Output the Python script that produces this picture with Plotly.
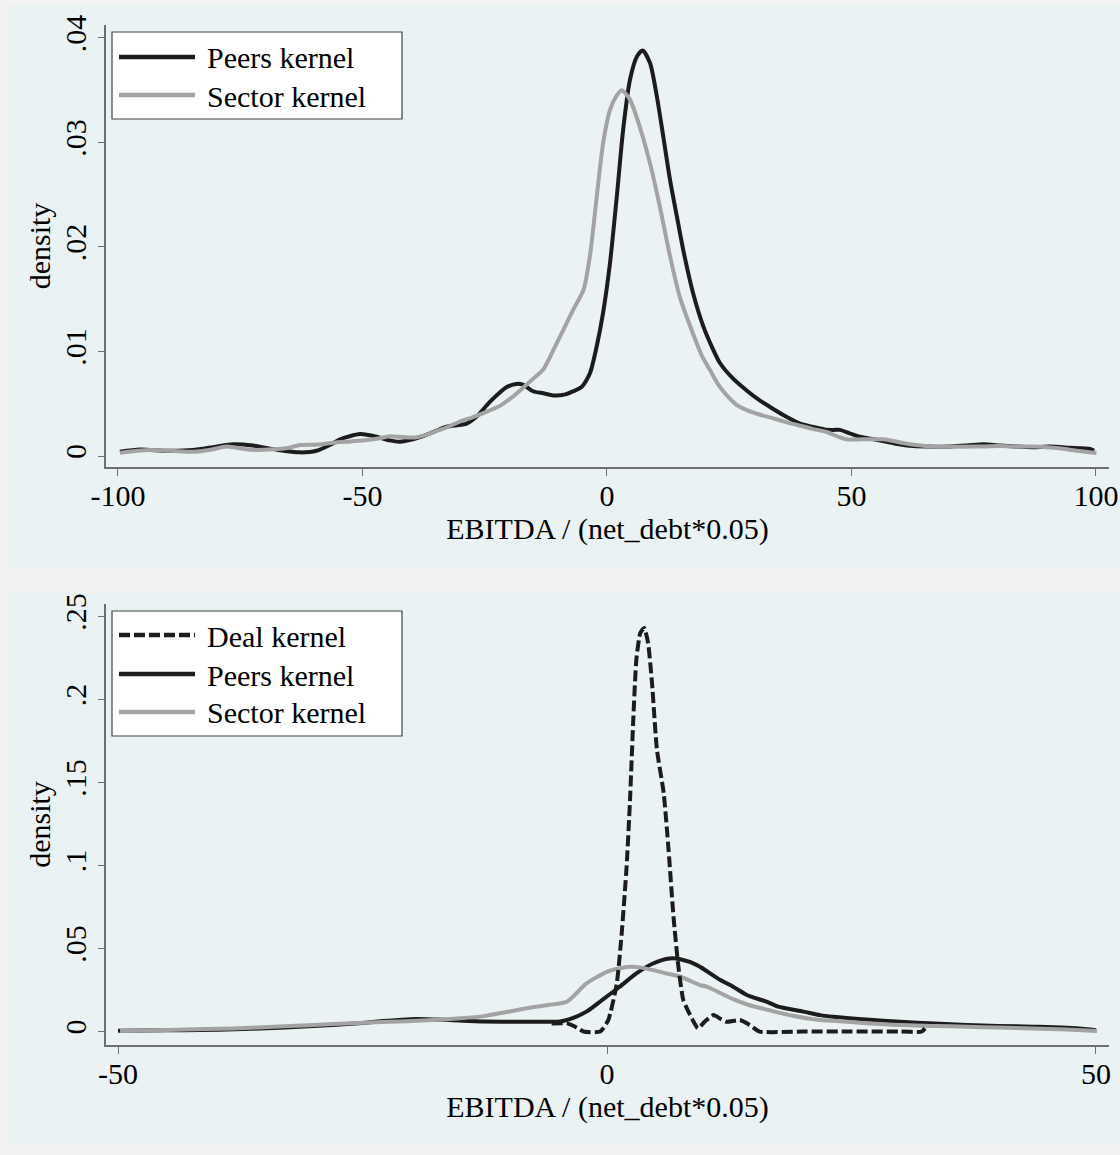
import plotly.graph_objects as go

W, H = 1120, 1155

# ---------------- data ----------------
# Top panel: EBITDA / (net_debt*0.05), range -100..100
top_peers_x = [-99.6, -95.5, -90, -84.7, -80, -76.5, -72.4, -67.5, -62.8, -59.4, -56.5, -54.6,
               -50.5, -47.1, -44.5, -42.3, -38.2, -35, -32.8, -28.7, -26.6, -23.9, -20.5, -18.5,
               -17.1, -15.1, -13, -11, -8.5, -6.9, -5.2, -3.5, -2.1, -0.8, 0.6, 2.0, 3.3, 4.7,
               6.1, 7.3, 8.8, 10.2, 11.5, 12.9, 14.3, 15.6, 17.6, 19.7, 21.5, 23.1, 25.8, 28.5,
               31.3, 34, 36.5, 39.5, 42, 44.5, 46.3, 47.6, 49.5, 51.7, 54.5, 57.2, 60, 62.6, 66,
               70.1, 73.5, 77, 80.5, 83.8, 87, 90.6, 94.5, 98.8, 99.6]
top_peers_y = [0.0004, 0.00062, 0.0005, 0.00057, 0.0009, 0.00112, 0.001, 0.0006, 0.00035, 0.0005,
               0.0011, 0.0016, 0.0021, 0.00185, 0.0015, 0.00137, 0.0018, 0.0024, 0.0028, 0.0031,
               0.0038, 0.0052, 0.0066, 0.0069, 0.0068, 0.0062, 0.0060, 0.0058, 0.0059, 0.0062,
               0.0066, 0.0079, 0.0105, 0.0137, 0.0184, 0.0248, 0.0312, 0.0360, 0.0382, 0.0388,
               0.0376, 0.0344, 0.0306, 0.0264, 0.0229, 0.0197, 0.0156, 0.0124, 0.0104, 0.0089,
               0.0074, 0.0063, 0.0053, 0.0045, 0.0038, 0.0031, 0.0028, 0.00255, 0.0025, 0.0025,
               0.0022, 0.00185, 0.0016, 0.00137, 0.0011, 0.00095, 0.0009, 0.00092, 0.001, 0.00112,
               0.001, 0.0009, 0.00085, 0.0009, 0.0008, 0.00067, 0.0005]

top_sector_x = [-99.6, -96, -93.5, -89, -84.6, -81, -77.8, -73, -68.2, -65, -62.8, -59, -56,
                -52.5, -49.1, -46.5, -44.4, -41.5, -38.9, -36.5, -34.2, -32, -30.1, -27.5, -25.3,
                -23.3, -21.9, -19.2, -17, -15.1, -13, -11, -8.9, -6.8, -4.8, -3.5, -2.1, -0.8,
                0.6, 2.0, 3.0, 4.7, 6.7, 8.8, 10.8, 12.9, 14.9, 17.6, 19.5, 21.1, 22.8, 24.5,
                26.5, 28.6, 31, 34, 37, 39.5, 42, 44.9, 47, 49, 52, 54.5, 56.5, 60, 63.3, 66.5,
                70.1, 75, 80.4, 84, 87.2, 90, 92.6, 96, 100.1]
top_sector_y = [0.0003, 0.0005, 0.00057, 0.0005, 0.0004, 0.0006, 0.0009, 0.0006, 0.00064, 0.0008,
                0.00105, 0.0011, 0.00127, 0.0014, 0.00153, 0.0017, 0.0019, 0.0018, 0.0018, 0.0021,
                0.0025, 0.0029, 0.0033, 0.0037, 0.0041, 0.0045, 0.0048, 0.0057, 0.0066, 0.0074,
                0.0083, 0.0101, 0.0121, 0.0141, 0.0159, 0.0191, 0.0248, 0.0299, 0.0331, 0.0345,
                0.0350, 0.0341, 0.0315, 0.0280, 0.0239, 0.0191, 0.0152, 0.0117, 0.0095, 0.0082,
                0.0068, 0.0058, 0.0049, 0.0044, 0.0040, 0.0036, 0.0032, 0.0029, 0.0026, 0.0023,
                0.0019, 0.0016, 0.0016, 0.0016, 0.0016, 0.0013, 0.00105, 0.0009, 0.0009, 0.0009,
                0.00095, 0.0009, 0.0009, 0.00085, 0.00074, 0.0005, 0.0003]

# Bottom panel: range -50..50
bot_deal_x = [-5.66, -4.1, -3.3, -2.4, -0.7, 0.13, 1.0, 1.5, 2.0, 2.35, 2.7, 3.0, 3.4, 3.8, 4.2,
              4.6, 5.1, 5.8, 6.3, 6.8, 7.3, 7.8, 8.5, 9.3, 10.0, 10.9, 11.5, 12.2, 13.6, 14.6,
              15.6, 20, 25, 30, 32.2, 32.5]
bot_deal_y = [0.0049, 0.0049, 0.003, 0.0, 0.0, 0.0069, 0.029, 0.059, 0.099, 0.139, 0.19, 0.224,
              0.240, 0.243, 0.234, 0.21, 0.17, 0.1435, 0.109, 0.069, 0.039, 0.019, 0.010, 0.002,
              0.006, 0.0099, 0.008, 0.0059, 0.0069, 0.0039, 0.0, 0.0, 0.0, 0.0, 0.0, 0.002]

bot_peers_x = [-50, -45, -41.6, -38, -34.8, -31, -28, -25, -22.9, -21, -19.5, -17.5, -16.1, -12.6,
               -9.2, -6, -4.8, -3.8, -2.1, -0.5, 1.3, 3.0, 4.7, 6.4, 7.5, 9.2, 11.6, 12.9, 14.3,
               16.3, 17.5, 20.1, 21.8, 23.1, 26.5, 30, 33.5, 36.8, 40, 43.6, 46.5, 49.4, 50]
bot_peers_y = [0.0005, 0.0008, 0.0009, 0.0014, 0.002, 0.003, 0.0039, 0.0052, 0.0063, 0.0071,
               0.0075, 0.0072, 0.0069, 0.0060, 0.0059, 0.0059, 0.0061, 0.0075, 0.012, 0.019,
               0.027, 0.035, 0.041, 0.044, 0.0435, 0.040, 0.031, 0.027, 0.022, 0.018, 0.015,
               0.012, 0.0099, 0.0089, 0.0072, 0.0059, 0.0048, 0.0039, 0.0034, 0.0029, 0.0024,
               0.0012, 0.0008]

bot_sector_x = [-49.8, -44, -38.2, -33, -28, -23, -17.8, -15, -12.6, -10.5, -8.2, -6, -4.1, -2.1,
                0.0, 1.2, 2.35, 3.5, 4.7, 6.1, 7.5, 9.5, 10.2, 12.9, 14.5, 16.5, 19, 21.8, 23.1,
                26.5, 30, 33.5, 36.8, 40, 43.6, 47, 50.1]
bot_sector_y = [0.0003, 0.0011, 0.0019, 0.0032, 0.0045, 0.0057, 0.0069, 0.0080, 0.0093, 0.0115,
                0.014, 0.016, 0.018, 0.029, 0.036, 0.038, 0.039, 0.0385, 0.037, 0.035, 0.033,
                0.028, 0.027, 0.0195, 0.016, 0.013, 0.0095, 0.0069, 0.0065, 0.005, 0.0039,
                0.0034, 0.0029, 0.0024, 0.0019, 0.0012, 0.0003]

top_xticks = [-100, -50, 0, 50, 100]
top_xlabels = ["-100", "-50", "0", "50", "100"]
top_yticks = [0, 0.01, 0.02, 0.03, 0.04]
top_ylabels = ["0", ".01", ".02", ".03", ".04"]
bot_xticks = [-50, 0, 50]
bot_xlabels = ["-50", "0", "50"]
bot_yticks = [0, 0.05, 0.1, 0.15, 0.2, 0.25]
bot_ylabels = ["0", ".05", ".1", ".15", ".2", ".25"]

x_title = "EBITDA / (net_debt*0.05)"
y_title = "density"

# ---------------- styling ----------------
FONT = "'Liberation Serif', 'Times New Roman', Times, serif"
FS = 30
BLACK = "#1c1c1c"
GREY = "#a3a3a3"
BG = "#eaf2f3"
OUTER = "#f2f2f2"
AXC = "#6e6e6e"
LW = 4
DASH = "11px,4px"


def fx(p):
    return p / W


def fy(p):
    return 1 - p / H


fig = go.Figure()

fig.add_trace(go.Scatter(x=top_peers_x, y=top_peers_y, mode="lines", name="Peers kernel",
                         line=dict(color=BLACK, width=LW, shape="spline", smoothing=0.7),
                         xaxis="x", yaxis="y", showlegend=False))
fig.add_trace(go.Scatter(x=top_sector_x, y=top_sector_y, mode="lines", name="Sector kernel",
                         line=dict(color=GREY, width=LW, shape="spline", smoothing=0.7),
                         xaxis="x", yaxis="y", showlegend=False))

fig.add_trace(go.Scatter(x=bot_peers_x, y=bot_peers_y, mode="lines", name="Peers kernel",
                         line=dict(color=BLACK, width=LW, shape="spline", smoothing=0.7),
                         xaxis="x2", yaxis="y2", showlegend=False))
fig.add_trace(go.Scatter(x=bot_sector_x, y=bot_sector_y, mode="lines", name="Sector kernel",
                         line=dict(color=GREY, width=LW, shape="spline", smoothing=0.7),
                         xaxis="x2", yaxis="y2", showlegend=False))
fig.add_trace(go.Scatter(x=bot_deal_x, y=bot_deal_y, mode="lines", name="Deal kernel",
                         line=dict(color=BLACK, width=LW, dash=DASH, shape="spline", smoothing=0.5),
                         xaxis="x2", yaxis="y2", showlegend=False))

axis_common = dict(
    showline=True, linecolor=AXC, linewidth=1.5, ticks="outside", tickcolor=AXC,
    tickwidth=1.2, zeroline=False, automargin=False,
    tickfont=dict(family=FONT, size=FS, color="black"),
    title_font=dict(family=FONT, size=FS, color="black"),
)

fig.update_layout(
    width=W, height=H, autosize=False,
    margin=dict(l=0, r=0, t=0, b=0, pad=0, autoexpand=False),
    paper_bgcolor=OUTER, plot_bgcolor="white",
    font=dict(family=FONT, size=FS, color="black"),
    xaxis=dict(domain=[fx(106), fx(1109)], range=[-102.45, 102.66], anchor="y",
               tickvals=top_xticks, ticktext=top_xlabels, ticklen=7, showgrid=False,
               title=dict(text=x_title, standoff=2), ticklabelstandoff=-6, **axis_common),
    yaxis=dict(domain=[fy(467), fy(25)], range=[-0.00105, 0.04124], anchor="x",
               tickvals=top_yticks, ticktext=top_ylabels, ticklen=6, tickangle=-90,
               showgrid=True, gridcolor=BG, gridwidth=1.5, ticklabelstandoff=0,
               title=dict(text=y_title, standoff=0), **axis_common),
    xaxis2=dict(domain=[fx(106), fx(1109)], range=[-51.23, 51.33], anchor="y2",
                tickvals=bot_xticks, ticktext=bot_xlabels, ticklen=7, showgrid=False,
                title=dict(text=x_title, standoff=2), ticklabelstandoff=-6, **axis_common),
    yaxis2=dict(domain=[fy(1045), fy(604)], range=[-0.0081, 0.2575], anchor="x2",
                tickvals=bot_yticks, ticktext=bot_ylabels, ticklen=6, tickangle=-90,
                showgrid=True, gridcolor=BG, gridwidth=1.5, ticklabelstandoff=0,
                title=dict(text=y_title, standoff=0), **axis_common),
)

shapes = []
annotations = []

# panel backgrounds
for (top, bot) in [(5, 568), (593, 1144)]:
    shapes.append(dict(type="rect", xref="paper", yref="paper", x0=fx(7), x1=1.0,
                       y0=fy(bot), y1=fy(top), fillcolor=BG, line=dict(width=0), layer="below"))


def legend(box_top, box_bot, entries):
    shapes.append(dict(type="rect", xref="paper", yref="paper", x0=fx(112), x1=fx(402),
                       y0=fy(box_bot), y1=fy(box_top), fillcolor="white",
                       line=dict(color="#444444", width=1.2), layer="above"))
    for (yc, label, color, dash) in entries:
        shapes.append(dict(type="line", xref="paper", yref="paper", x0=fx(119), x1=fx(195),
                           y0=fy(yc), y1=fy(yc), line=dict(color=color, width=4.5, dash=dash),
                           layer="above"))
        annotations.append(dict(xref="paper", yref="paper", x=fx(205), y=fy(yc + 1),
                                xanchor="left", yanchor="middle", text=label, showarrow=False,
                                font=dict(family=FONT, size=FS, color="black")))


legend(32, 119, [(57, "Peers kernel", BLACK, "solid"), (95, "Sector kernel", GREY, "solid")])
legend(611, 736, [(635, "Deal kernel", BLACK, DASH), (674, "Peers kernel", BLACK, "solid"),
                  (712, "Sector kernel", GREY, "solid")])

fig.update_layout(shapes=shapes, annotations=annotations)

fig.write_html(
    "out.html",
    config={"displayModeBar": False},
    post_script="document.body.style.margin='0';document.body.style.overflow='hidden';",
)
